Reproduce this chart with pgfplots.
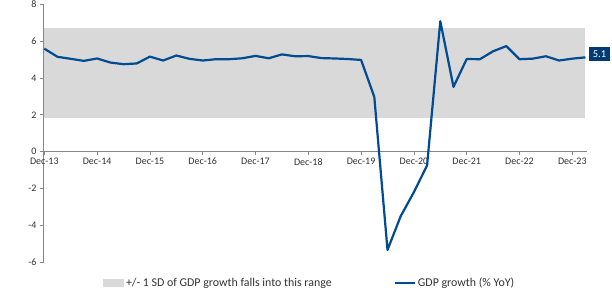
\documentclass[border=0pt]{standalone}
\usepackage{pgfplots}
\pgfplotsset{compat=1.18}
\usepackage{fontspec}
\setmainfont{Carlito}
\definecolor{band}{RGB}{217,217,217}
\definecolor{gdp}{RGB}{0,75,145}
\definecolor{boxc}{RGB}{0,58,112}
\definecolor{axisgray}{RGB}{134,134,134}
\definecolor{labgray}{RGB}{50,50,50}

\pgfplotstableread{
x y
0 5.58
1 5.14
2 5.03
3 4.92
4 5.05
5 4.83
6 4.74
7 4.78
8 5.15
9 4.94
10 5.21
11 5.03
12 4.94
13 5.01
14 5.01
15 5.06
16 5.19
17 5.06
18 5.27
19 5.17
20 5.18
21 5.07
22 5.05
23 5.02
24 4.97
25 2.97
26 -5.32
27 -3.49
28 -2.19
29 -0.74
30 7.07
31 3.51
32 5.02
33 5.01
34 5.44
35 5.72
36 5.01
37 5.04
38 5.17
39 4.94
40 5.04
41 5.11
}\gdpdata

\begin{document}
\begin{tikzpicture}
\useasboundingbox (0bp,0bp) rectangle (612bp,293bp);
\begin{axis}[
  at={(43bp,30.5bp)}, anchor=south west,
  scale only axis, width=543.8bp, height=258.5bp,
  xmin=-0.1, xmax=41.1, ymin=-6, ymax=8,
  clip mode=individual,
  axis y line=left, axis x line=middle,
  axis line style={axisgray, line width=0.8bp, -},
  tick align=outside,
  major tick length=3bp,
  tick style={axisgray, line width=0.7bp},
  xtick={0,4,...,40},
  xticklabels={Dec-13,Dec-14,Dec-15,Dec-16,Dec-17,Dec-18,Dec-19,Dec-20,Dec-21,Dec-22,Dec-23},
  ytick={-6,-4,-2,0,2,4,6,8},
  yticklabels={-6,-4,-2,0,2,4,6,8},
  tick label style={font=\fontsize{10bp}{12bp}\selectfont, text=labgray},
  legend columns=2,
  legend cell align=left,
  legend style={draw=none, fill=none, at={(0.110,-0.079)}, anchor=west,
    font=\fontsize{11.9bp}{14bp}\selectfont, inner sep=0pt, text=labgray,
    /tikz/every even column/.append style={column sep=60bp}},
]
\addplot[fill=band, draw=none,
  legend image code/.code={\fill[band] (0bp,-4bp) rectangle (21bp,4bp);}]
  coordinates {(0,1.83) (41,1.83) (41,6.72) (0,6.72)} -- cycle;
\addlegendentry{+/- 1 SD of GDP growth falls into this range}
\addplot[gdp, line width=2.2bp, line join=round, mark=none,
  legend image code/.code={\draw[gdp, line width=2.2bp] (0bp,0bp) -- (20bp,0bp);}]
  table[x=x,y=y] {\gdpdata};
\addlegendentry{GDP growth (\% YoY)}
\end{axis}
\begin{axis}[
  at={(43bp,30.5bp)}, anchor=south west,
  scale only axis, width=543.8bp, height=258.5bp,
  xmin=-0.1, xmax=41.1, ymin=-6, ymax=8,
  hide axis, clip=false,
]
\addplot[draw=none, mark=none, forget plot,
  nodes near coords={5.1},
  every node near coord/.style={fill=boxc, text=white,
    font=\fontsize{10.5bp}{12bp}\selectfont,
    minimum width=21bp, minimum height=14bp, inner sep=0pt, anchor=west,
    xshift=3.3bp, yshift=3.2bp}]
  coordinates {(41,5.11)};
\end{axis}
\end{tikzpicture}
\end{document}
